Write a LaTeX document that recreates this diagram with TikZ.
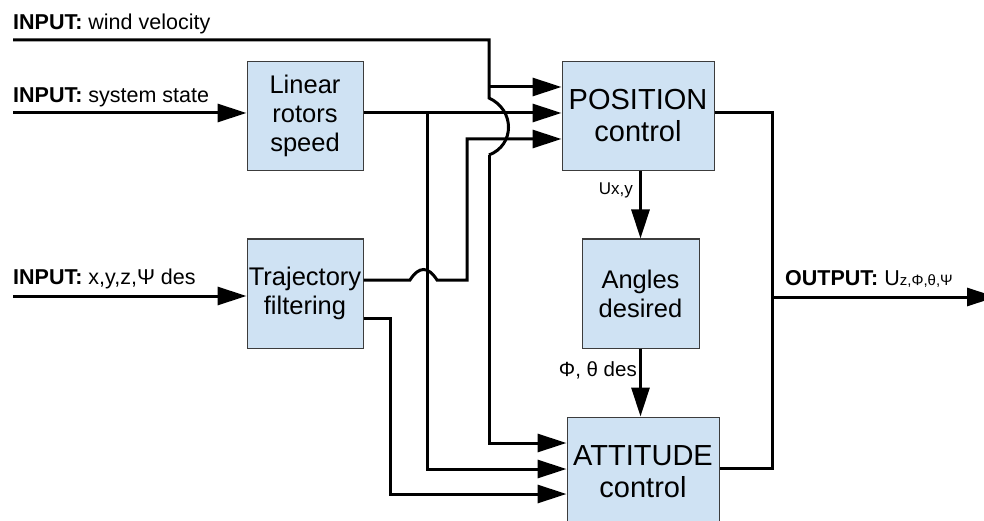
\documentclass[tikz,border=0pt]{standalone}
\usepackage{fontspec}
\setmainfont{Liberation Sans}
\usetikzlibrary{arrows.meta,calc}
\definecolor{boxblue}{RGB}{207,226,243}
\definecolor{boxline}{RGB}{60,60,60}
\newcommand{\lbltxt}{\fontsize{21.5}{25}\selectfont}
\newcommand{\blktxt}{\fontsize{25.5}{29}\selectfont}
\newcommand{\bigtxt}{\fontsize{29}{32}\selectfont}
\newcommand{\subtxt}{\fontsize{15}{18}\selectfont}
\tikzset{
  blk/.style={draw=boxline,fill=boxblue,line width=1pt,align=center,inner sep=0pt,minimum height=109pt},
  sig/.style={line width=3pt,-{Triangle[length=29pt,width=18pt]}},
  wire/.style={line width=3pt},
  lbl/.style={inner sep=0pt,font=\lbltxt},
}

\begin{document}
\begin{tikzpicture}[x=1pt,y=-1pt]
  \useasboundingbox (0,0) rectangle (984,521);

  % Blocks
  \node[blk,minimum width=116pt,font=\blktxt] (linear) at (305,116) {Linear\\rotors\\speed};
  \node[blk,minimum width=116pt,font=\blktxt] (traj) at (305,293.5) {Trajectory\\filtering};
  \node[blk,minimum width=152pt,font=\bigtxt] (position) at (638,116) {POSITION\\control};
  \node[blk,minimum width=117pt,font=\blktxt] (angles) at (640.5,293.5) {Angles\\desired};
  \node[blk,minimum width=152pt,font=\bigtxt] (attitude) at (643,471.5) {ATTITUDE\\control};

  % Inputs
  \coordinate (windin) at (13,40);
  \coordinate (statein) at (13,113);
  \coordinate (xyzin) at (13,296);
  \node[lbl,anchor=base west] (windlbl) at (13,30) {\textbf{INPUT:} wind velocity};
  \node[lbl,anchor=base west] (statelbl) at (13,103) {\textbf{INPUT:} system state};
  \node[lbl,anchor=base west] (xyzlbl) at (13,284) {\textbf{INPUT:} x,y,z,Ψ des};

  % wind velocity, jumping over the two lower position inputs
  \draw[wire] (windin) -- (489,40) -- (489,98) .. controls (515,110) and (515,145) .. (489,155);
  \draw[sig] (489,155) |- (attitude.west |- 0,443);
  \draw[sig] (489,87) -- (position.west |- 0,87);

  % system state through the rotor block
  \draw[sig] (statein) -- (linear.west |- statein);
  \draw[sig] (linear.east |- 0,113) -- (position.west |- 0,113);
  \draw[sig] (427,113) |- (attitude.west |- 0,469);

  % desired trajectory
  \draw[sig] (xyzin) -- (traj.west |- xyzin);
  \draw[sig] (traj.east |- 0,280) -- (410,280) .. controls (419,266) and (428,266) .. (437,280) -- (467,280) |- (position.west |- 0,139);
  \draw[sig] (traj.east |- 0,318) -| (390,494) -- (attitude.west |- 0,494);

  % Inner loop
  \draw[sig] (angles.north |- position.south) -- (angles.north);
  \node[anchor=base east,inner sep=0pt,font=\fontsize{17}{20}\selectfont] (uxy) at (633,195) {Ux,y};
  \draw[sig] (angles.south) -- (angles.south |- attitude.north);
  \node[anchor=base east,inner sep=0pt,font=\fontsize{20.5}{24}\selectfont] (angdes) at (637,376) {Φ, θ des};

  % Output
  \coordinate (out) at (996,297);
  \draw[wire] (position.east |- 0,113) -| (772,468) -- (attitude.east |- 0,468);
  \draw[sig] (772,297) -- (out);
  \node[lbl,anchor=base west] (outlbl) at (785,285) {\textbf{OUTPUT:} U{\subtxt z,Φ,θ,Ψ}};
\end{tikzpicture}
\end{document}
